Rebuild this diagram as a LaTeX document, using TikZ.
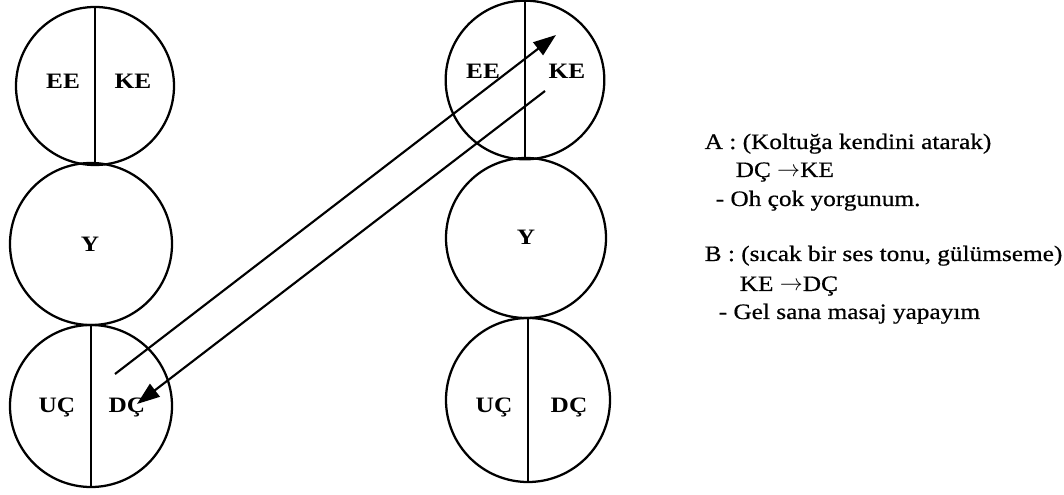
\documentclass[tikz,border=0pt]{standalone}
\usepackage{fontspec}
\setmainfont{Liberation Serif}[FakeStretch=1.15]
\newfontfamily\scanfont{Liberation Serif}[FakeStretch=1.15, FakeBold=0.6]
\usetikzlibrary{arrows.meta}

\begin{document}
\begin{tikzpicture}[x=0.75pt,y=-0.75pt]
        \useasboundingbox (0,0) rectangle (1064,495);
        \tikzset{
            ring/.style={circle, draw, line width=1.7pt, inner sep=0pt},
            lbl/.style={anchor=base, font=\fontsize{16.5}{19}\selectfont\bfseries},
            txt/.style={anchor=base west, font=\fontsize{16.5}{19}\selectfont\scanfont},
            link/.style={line width=1.6pt, -{Triangle[length=17pt,width=12pt]}}
        }
        % left person
        \node[ring, minimum size=118.5pt] (L1) at (95,86) {};
        \node[ring, minimum size=121.5pt] (L2) at (91,244) {};
        \node[ring, minimum size=121.5pt] (L3) at (91,406) {};
        % right person
        \node[ring, minimum size=119pt] (R1) at (525,80) {};
        \node[ring, minimum size=120pt] (R2) at (526,238) {};
        \node[ring, minimum size=123pt] (R3) at (528,400) {};
        \foreach \c in {L1, L3, R1, R3} {
            \draw[line width=1.4pt] (\c.north) -- (\c.south);
        }
        \node[lbl] (LEE) at (63,89) {EE};
        \node[lbl] (LKE) at (133,89) {KE};
        \node[lbl] (LY) at (90,252) {Y};
        \node[lbl] (LUC) at (57,412) {UÇ};
        \node[lbl] (LDC) at (127,412) {DÇ};
        \node[lbl] (REE) at (483,79) {EE};
        \node[lbl] (RKE) at (567,79) {KE};
        \node[lbl] (RY) at (526,245) {Y};
        \node[lbl] (RUC) at (494,412) {UÇ};
        \node[lbl] (RDC) at (569,412) {DÇ};
        % transactions
        \coordinate (As) at (115,374);
        \coordinate (Ae) at (556,35);
        \coordinate (Bs) at (545,91);
        \coordinate (Be) at (137,404);
        \draw[link] (As) -- (Ae);
        \draw[link] (Bs) -- (Be);
        % dialogue
        \node[txt] (tA) at (700,149) {A : (Koltuğa kendini atarak)};
        \node[txt] (tA1) at (731,177) {DÇ $\rightarrow$KE};
        \node[txt] (tA2) at (711,206) {- Oh çok yorgunum.};
        \node[txt] (tB) at (700,261) {B : (sıcak bir ses tonu, gülümseme)};
        \node[txt] (tB1) at (735,291) {KE $\rightarrow$DÇ};
        \node[txt] (tB2) at (714,319) {- Gel sana masaj yapayım};
    \end{tikzpicture}
\end{document}
